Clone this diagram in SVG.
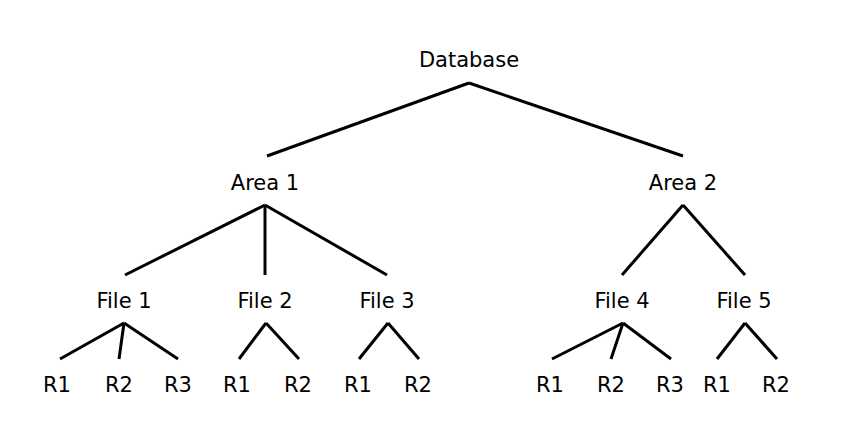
<svg xmlns="http://www.w3.org/2000/svg" width="852" height="428" viewBox="0 0 852 428">
<style>
text{font-family:"DejaVu Sans","Liberation Sans",sans-serif;font-size:21px;fill:#000;text-anchor:middle}
.c line{stroke:#000;stroke-width:3;stroke-linecap:butt}
</style>
<rect width="852" height="428" fill="#fff"/>
<g class="c" id="connectors">
<line x1="469" y1="83" x2="267" y2="156"/>
<line x1="469" y1="83" x2="683" y2="156"/>
<line x1="265" y1="205" x2="125" y2="275"/>
<line x1="265" y1="205" x2="265" y2="275"/>
<line x1="265" y1="205" x2="387" y2="275"/>
<line x1="683" y1="205" x2="622" y2="275"/>
<line x1="683" y1="205" x2="745" y2="275"/>
<line x1="124" y1="323" x2="60" y2="359"/>
<line x1="124" y1="323" x2="119" y2="359"/>
<line x1="124" y1="323" x2="178" y2="359"/>
<line x1="266" y1="323" x2="239" y2="359"/>
<line x1="266" y1="323" x2="299" y2="359"/>
<line x1="388" y1="323" x2="359" y2="359"/>
<line x1="388" y1="323" x2="419" y2="359"/>
<line x1="623" y1="323" x2="552" y2="359"/>
<line x1="623" y1="323" x2="611" y2="359"/>
<line x1="623" y1="323" x2="671" y2="359"/>
<line x1="745" y1="323" x2="717" y2="359"/>
<line x1="745" y1="323" x2="777" y2="359"/>
</g>
<g id="database"><text x="469" y="67">Database</text></g>
<g id="area1"><text x="265" y="190">Area 1</text></g>
<g id="area2"><text x="683" y="190">Area 2</text></g>
<g id="file1"><text x="124" y="308">File 1</text></g>
<g id="file2"><text x="265" y="308">File 2</text></g>
<g id="file3"><text x="387" y="308">File 3</text></g>
<g id="file4"><text x="622" y="308">File 4</text></g>
<g id="file5"><text x="744" y="308">File 5</text></g>
<g id="f1r1"><text x="57" y="392">R1</text></g>
<g id="f1r2"><text x="119" y="392">R2</text></g>
<g id="f1r3"><text x="178" y="392">R3</text></g>
<g id="f2r1"><text x="237" y="392">R1</text></g>
<g id="f2r2"><text x="298" y="392">R2</text></g>
<g id="f3r1"><text x="358" y="392">R1</text></g>
<g id="f3r2"><text x="418" y="392">R2</text></g>
<g id="f4r1"><text x="550" y="392">R1</text></g>
<g id="f4r2"><text x="611" y="392">R2</text></g>
<g id="f4r3"><text x="670" y="392">R3</text></g>
<g id="f5r1"><text x="717" y="392">R1</text></g>
<g id="f5r2"><text x="776" y="392">R2</text></g>
</svg>
